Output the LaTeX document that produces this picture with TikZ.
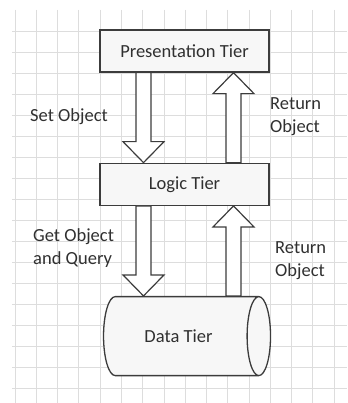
\documentclass[tikz,border=0pt]{standalone}
\usepackage{fontspec}
\setmainfont{Carlito}
\usepackage{tikz}
\usetikzlibrary{shapes.geometric,positioning,calc}
\definecolor{gridcol}{HTML}{DDDDDD}
\definecolor{linecol}{HTML}{3C3C3C}
\definecolor{textcol}{HTML}{303030}

% hollow block arrow from #1 (shaft start) to #2 (tip)
\newcommand{\tierarrow}[2]{%
  \coordinate (hb) at ($(#2)!21pt!(#1)$);
  \draw[blockarr] ($(#1)!7.5pt!90:(#2)$) -- ($(hb)!7.5pt!90:(#2)$) -- ($(hb)!20.5pt!90:(#2)$) -- (#2)
    -- ($(hb)!20.5pt!-90:(#2)$) -- ($(hb)!7.5pt!-90:(#2)$) -- ($(#1)!7.5pt!-90:(#2)$) -- cycle;}

\begin{document}
\begin{tikzpicture}[x=1pt,y=-1pt,node distance=90pt,
  tier/.style={draw=linecol,line width=1.3pt,fill=black!3,minimum width=169pt,minimum height=42pt,font=\fontsize{18.5}{23}\selectfont,text=textcol},
  lbl/.style={align=left,anchor=west,inner sep=0pt,font=\fontsize{18.5}{23}\selectfont,text=textcol},
  blockarr/.style={draw=linecol,line width=1.2pt,fill=white,line join=miter},
  gridline/.style={gridcol,line width=0.7pt}]
  \useasboundingbox (0,0) rectangle (347,403);
  % background grid
  \foreach \gx in {0,...,15} \draw[gridline] ({15+21.27*\gx},10) -- ({15+21.27*\gx},403);
  \foreach \gy in {0,...,17} \draw[gridline] (12,{31+21*\gy}) -- (347,{31+21*\gy});
  % tiers
  \node[tier] (pres) at (184.5,51) {Presentation Tier};
  \node[tier,below=of pres] (logic) {Logic Tier};
  \node[tier,cylinder,shape aspect=1.2,minimum width=79pt,minimum height=167pt,below=of logic,xshift=-6pt] (data) {Data Tier};
  % arrow ends
  \coordinate (setS) at ($(pres.south)+(-41,0)$);
  \coordinate (setT) at ($(logic.north)+(-41,0)$);
  \coordinate (retS) at ($(logic.north)+(49,0)$);
  \coordinate (retT) at ($(pres.south)+(49,0)$);
  \coordinate (getS) at ($(logic.south)+(-41,0)$);
  \coordinate (getT) at (getS |- data.north);
  \coordinate (backT) at ($(logic.south)+(49,0)$);
  \coordinate (backS) at (backT |- data.north);
  \tierarrow{setS}{setT}
  \tierarrow{retS}{retT}
  \tierarrow{getS}{getT}
  \tierarrow{backS}{backT}
  % labels
  \node[lbl] (setlbl) at (30,117) {Set Object};
  \node[lbl] (retlbl) at (270,116.5) {Return\\Object};
  \node[lbl] (getlbl) at (33,248.5) {Get Object\\and Query};
  \node[lbl] (backlbl) at (275,261) {Return\\Object};
\end{tikzpicture}
\end{document}
